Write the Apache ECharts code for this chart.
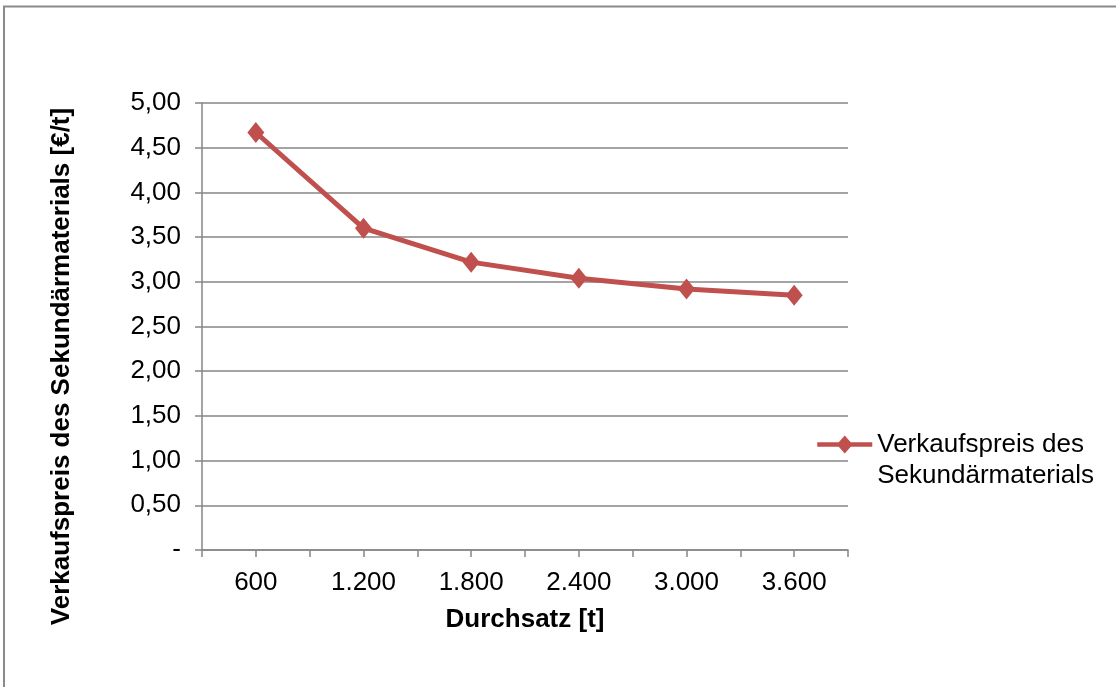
<!DOCTYPE html>
<html>
<head>
<meta charset="utf-8">
<script src="https://cdn.jsdelivr.net/npm/echarts@6/dist/echarts.min.js"></script>
<style>
  html, body { margin: 0; padding: 0; background: #fff; }
  #chart { width: 1116px; height: 687px; }
</style>
</head>
<body>
<div id="chart"></div>
<script>
// Throughput categories (t) and the resulting secondary material price (€/t)
const throughput = [600, 1200, 1800, 2400, 3000, 3600];
const throughputLabels = ['600', '1.200', '1.800', '2.400', '3.000', '3.600'];
const price = [4.67, 3.60, 3.22, 3.04, 2.92, 2.85];
const seriesName = 'Verkaufspreis des\nSekundärmaterials';
const yTickLabels = ['-', '0,50', '1,00', '1,50', '2,00', '2,50', '3,00', '3,50', '4,00', '4,50', '5,00'];

const FONT = '"Liberation Sans", Arial, sans-serif';
const GRAY = '#868686';
const RED = '#C0504D';
const FS = 26;

const chart = echarts.init(document.getElementById('chart'), null, { renderer: 'canvas' });

chart.setOption({
  animation: false,
  backgroundColor: '#fff',
  textStyle: { fontFamily: FONT },
  graphic: [{
    type: 'rect',
    shape: { x: 4, y: 6.5, width: 1200, height: 800 },
    style: { fill: 'none', stroke: '#8a8a8a', lineWidth: 2 },
    silent: true
  }],
  grid: { left: 202, right: 268, top: 103, bottom: 137, containLabel: false },
  legend: {
    show: true,
    left: 815,
    top: 398,
    padding: 0,
    orient: 'vertical',
    itemWidth: 55,
    itemHeight: 18,
    itemGap: 0,
    icon: 'path://M0,9 L36,9 L44,0 L52,9 L88,9 L52,9 L44,18 L36,9 Z',
    // blank first line keeps the icon level with the first text line
    formatter: name => '\n' + name,
    textStyle: {
      fontFamily: FONT, fontSize: FS, color: '#000', lineHeight: 31
    },
    data: [{ name: seriesName, itemStyle: { color: RED, borderColor: RED, borderWidth: 4.5 } }]
  },
  xAxis: {
    type: 'value',
    min: 300,
    max: 3900,
    interval: 300,
    axisLine: { show: true, lineStyle: { color: GRAY, width: 1.5 } },
    axisTick: { show: true, length: 7, lineStyle: { color: GRAY, width: 1.5 } },
    splitLine: { show: false },
    axisLabel: {
      margin: 20,
      fontFamily: FONT, fontSize: FS, color: '#000',
      formatter: v => {
        const i = throughput.indexOf(v);
        return i >= 0 ? throughputLabels[i] : '';
      }
    },
    name: 'Durchsatz [t]',
    nameLocation: 'middle',
    nameGap: 57,
    nameTextStyle: { fontFamily: FONT, fontSize: FS, fontWeight: 'bold', color: '#000' }
  },
  yAxis: {
    type: 'value',
    min: 0,
    max: 5,
    interval: 0.5,
    axisLine: { show: true, lineStyle: { color: GRAY, width: 1.5 } },
    axisTick: { show: true, length: 7, lineStyle: { color: GRAY, width: 1.5 } },
    splitLine: { show: true, lineStyle: { color: GRAY, width: 1.5 } },
    axisLabel: {
      margin: 21,
      fontFamily: FONT, fontSize: FS, color: '#000',
      formatter: v => yTickLabels[Math.round(v / 0.5)]
    },
    name: 'Verkaufspreis des Sekundärmaterials [€/t]',
    nameLocation: 'middle',
    nameGap: 127,
    nameTextStyle: {
      fontFamily: FONT, fontSize: FS, fontWeight: 'bold', color: '#000',
      padding: [0, 80, 0, 0]
    }
  },
  series: [{
    name: seriesName,
    type: 'line',
    data: throughput.map((x, i) => [x, price[i]]),
    lineStyle: { color: RED, width: 5 },
    itemStyle: { color: RED },
    symbol: 'diamond',
    symbolSize: [17, 21],
    showSymbol: true
  }]
});
</script>
</body>
</html>
